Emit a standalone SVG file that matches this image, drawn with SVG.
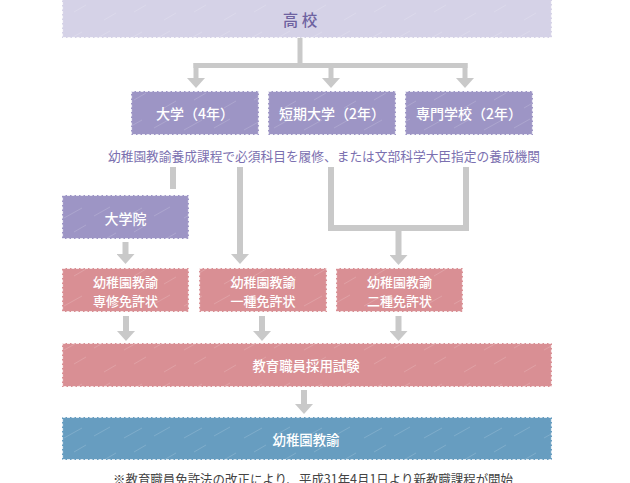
<svg xmlns="http://www.w3.org/2000/svg" width="630" height="483" viewBox="0 0 630 483">
<style>
text{font-family:"Noto Sans CJK JP","Noto Sans",sans-serif;text-anchor:middle;dominant-baseline:central}
.lbl{fill:#ffffff;font-size:13.4px;font-weight:500}
.two{font-size:13px}
.top{fill:#d5d2e7}
.pur{fill:#9d95c5}
.pink{fill:#d98f94}
.blue{fill:#679dc0}
.edge{fill:none;stroke:#ffffff;stroke-width:1.2;stroke-dasharray:3 1.5;opacity:0.8}
.hatch{fill:url(#hatch)}
.conn{stroke:#c9c9c9;stroke-width:6;fill:none}
.arr{marker-end:url(#ah)}
</style>
<defs>
<marker id="ah" viewBox="0 0 10 18" refX="0" refY="9" markerWidth="10" markerHeight="18" markerUnits="userSpaceOnUse" orient="auto">
<path d="M0,0 L10,9 L0,18 z" fill="#c9c9c9"/>
</marker>
<pattern id="hatch" width="60" height="44" patternUnits="userSpaceOnUse">
<path d="M4,42 L22,32 M34,40 L50,31 M14,12 L26,5 M44,20 L56,13" stroke="#ffffff" stroke-width="0.7" opacity="0.22"/>
</pattern>
</defs>

<g id="connectors">
<line class="conn" x1="300" y1="38" x2="300" y2="66" style="stroke-width:5"/>
<line class="conn" x1="193.5" y1="65.5" x2="467.5" y2="65.5" style="stroke-width:5"/>
<line class="conn arr" x1="196" y1="63" x2="196" y2="78" style="stroke-width:5"/>
<line class="conn arr" x1="331" y1="63" x2="331" y2="78" style="stroke-width:5"/>
<line class="conn arr" x1="465" y1="63" x2="465" y2="78" style="stroke-width:5"/>
<line class="conn" x1="173" y1="167" x2="173" y2="189"/>
<line class="conn arr" x1="240" y1="167" x2="240" y2="254"/>
<path class="conn" d="M331,167 V228 H466 V167"/>
<line class="conn arr" x1="398.5" y1="228" x2="398.5" y2="255"/>
<line class="conn arr" x1="125.5" y1="242" x2="125.5" y2="254"/>
<line class="conn arr" x1="126" y1="316" x2="126" y2="331"/>
<line class="conn arr" x1="262" y1="316" x2="262" y2="331"/>
<line class="conn arr" x1="398.5" y1="316" x2="398.5" y2="331"/>
<line class="conn arr" x1="304" y1="390" x2="304" y2="404"/>
</g>

<g id="koukou">
<rect class="top" x="62" y="-5" width="490" height="43"/>
<rect class="hatch" x="62" y="-5" width="490" height="43"/>
<rect class="edge" x="62.5" y="-5" width="489" height="42.5"/>
<text x="300" y="19" style="fill:#6e62a0;font-size:15.5px;font-weight:500">高 校</text>
</g>

<g id="daigaku">
<rect class="pur" x="131" y="91" width="128" height="44"/>
<rect class="hatch" x="131" y="91" width="128" height="44"/>
<rect class="edge" x="131.5" y="91.5" width="127" height="43"/>
<text class="lbl" x="195" y="113" style="font-size:14px">大学（4年）</text>
</g>

<g id="tanki">
<rect class="pur" x="268" y="91" width="128" height="44"/>
<rect class="hatch" x="268" y="91" width="128" height="44"/>
<rect class="edge" x="268.5" y="91.5" width="127" height="43"/>
<text class="lbl" x="332" y="113" style="font-size:14px">短期大学（2年）</text>
</g>

<g id="senmon">
<rect class="pur" x="405" y="91" width="128" height="44"/>
<rect class="hatch" x="405" y="91" width="128" height="44"/>
<rect class="edge" x="405.5" y="91.5" width="127" height="43"/>
<text class="lbl" x="469" y="113" style="font-size:14px">専門学校（2年）</text>
</g>

<g id="caption">
<text x="324" y="155" style="fill:#7b70b0;font-size:12.6px" textLength="432" lengthAdjust="spacingAndGlyphs">幼稚園教諭養成課程で必須科目を履修、または文部科学大臣指定の養成機関</text>
</g>

<g id="daigakuin">
<rect class="pur" x="62" y="195" width="127" height="44"/>
<rect class="hatch" x="62" y="195" width="127" height="44"/>
<rect class="edge" x="62.5" y="195.5" width="126" height="43"/>
<text class="lbl" x="125.5" y="218" style="font-size:14px">大学院</text>
</g>

<g id="senshu">
<rect class="pink" x="62" y="268" width="127" height="44"/>
<rect class="hatch" x="62" y="268" width="127" height="44"/>
<rect class="edge" x="62.5" y="268.5" width="126" height="43"/>
<text class="lbl two" x="125.5" y="281">幼稚園教諭</text>
<text class="lbl two" x="125.5" y="300.5">専修免許状</text>
</g>

<g id="isshu">
<rect class="pink" x="199" y="268" width="128" height="44"/>
<rect class="hatch" x="199" y="268" width="128" height="44"/>
<rect class="edge" x="199.5" y="268.5" width="127" height="43"/>
<text class="lbl two" x="263" y="281">幼稚園教諭</text>
<text class="lbl two" x="263" y="300.5">一種免許状</text>
</g>

<g id="nishu">
<rect class="pink" x="336" y="268" width="127" height="44"/>
<rect class="hatch" x="336" y="268" width="127" height="44"/>
<rect class="edge" x="336.5" y="268.5" width="126" height="43"/>
<text class="lbl two" x="399.5" y="281">幼稚園教諭</text>
<text class="lbl two" x="399.5" y="300.5">二種免許状</text>
</g>

<g id="shiken">
<rect class="pink" x="62" y="343" width="490" height="44"/>
<rect class="hatch" x="62" y="343" width="490" height="44"/>
<rect class="edge" x="62.5" y="343.5" width="489" height="43"/>
<text class="lbl" x="306" y="365">教育職員採用試験</text>
</g>

<g id="kyouyu">
<rect class="blue" x="62" y="417" width="490" height="43"/>
<rect class="hatch" x="62" y="417" width="490" height="43"/>
<rect class="edge" x="62.5" y="417.5" width="489" height="42"/>
<text class="lbl" x="306" y="438.5">幼稚園教諭</text>
</g>

<g id="footnote">
<text x="313" y="478" style="fill:#444444;font-size:13px" textLength="400" lengthAdjust="spacingAndGlyphs">※教育職員免許法の改正により、平成31年4月1日より新教職課程が開始</text>
</g>
</svg>
